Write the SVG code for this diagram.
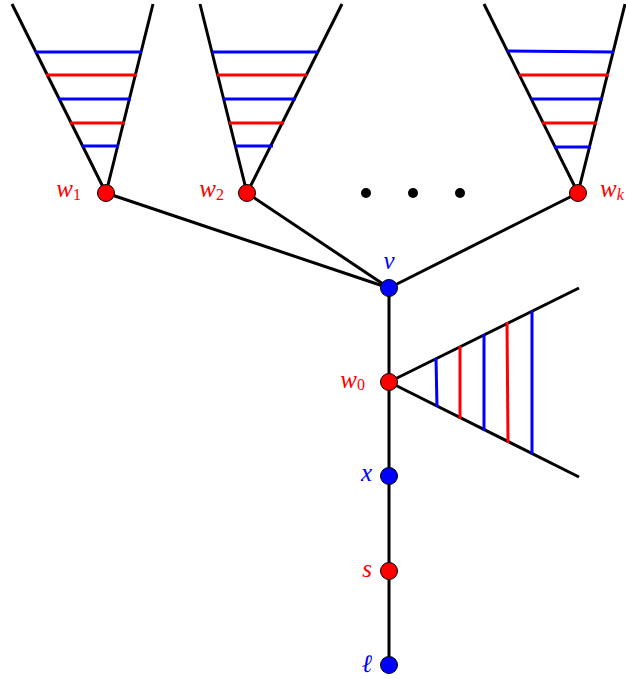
<svg xmlns="http://www.w3.org/2000/svg" width="626" height="679" viewBox="0 0 626 679">
<style>
.e{stroke:#000;stroke-width:3;fill:none;stroke-linecap:butt}
.b{stroke:#0000ff;stroke-width:3;fill:none}
.r{stroke:#ff0000;stroke-width:3;fill:none}
.nr{fill:#ff0000;stroke:#000;stroke-width:1}
.nb{fill:#0000ff;stroke:#000;stroke-width:1}
.t{font-family:"Liberation Serif","DejaVu Serif",serif;font-style:italic;font-size:25px}
.sub{font-style:normal;font-size:16px}
.subi{font-style:italic;font-size:16px}
.tr{fill:#ff0000}
.tb{fill:#0000ff}
</style>
<g id="connectors">
<line class="e" x1="106" y1="193" x2="389" y2="288"/>
<line class="e" x1="247" y1="193" x2="389" y2="288"/>
<line class="e" x1="578" y1="193" x2="389" y2="288"/>
<line class="e" x1="389" y1="288" x2="389" y2="665"/>
</g>
<g id="tree-w1">
<line class="e" x1="106" y1="193" x2="12" y2="4"/>
<line class="e" x1="106" y1="193" x2="153" y2="4"/>
<line class="b" x1="35" y1="52" x2="142" y2="52"/>
<line class="r" x1="46" y1="75" x2="137" y2="75"/>
<line class="b" x1="58" y1="99" x2="131" y2="99"/>
<line class="r" x1="70" y1="123" x2="125" y2="123"/>
<line class="b" x1="82" y1="146" x2="119" y2="146"/>
</g>
<g id="tree-w2">
<line class="e" x1="247" y1="193" x2="200" y2="4"/>
<line class="e" x1="247" y1="193" x2="342" y2="4"/>
<line class="b" x1="212" y1="52" x2="318" y2="52"/>
<line class="r" x1="217" y1="75" x2="307" y2="75"/>
<line class="b" x1="223" y1="99" x2="296" y2="99"/>
<line class="r" x1="229" y1="123" x2="284" y2="123"/>
<line class="b" x1="235" y1="146" x2="273" y2="146"/>
</g>
<g id="tree-wk">
<line class="e" x1="578" y1="193" x2="484" y2="4"/>
<line class="e" x1="578" y1="193" x2="625" y2="4"/>
<line class="b" x1="507" y1="51" x2="614" y2="52"/>
<line class="r" x1="519" y1="75" x2="609" y2="75"/>
<line class="b" x1="531" y1="99" x2="603" y2="99"/>
<line class="r" x1="542" y1="123" x2="597" y2="123"/>
<line class="b" x1="554" y1="147" x2="591" y2="147"/>
</g>
<g id="fan-w0">
<line class="e" x1="389" y1="382" x2="579" y2="288"/>
<line class="e" x1="389" y1="382" x2="579" y2="477"/>
<line class="b" x1="436" y1="358" x2="437" y2="407"/>
<line class="r" x1="460" y1="346" x2="460" y2="419"/>
<line class="b" x1="484" y1="334" x2="484" y2="431"/>
<line class="r" x1="507" y1="322" x2="508" y2="443"/>
<line class="b" x1="532" y1="311" x2="532" y2="454"/>
</g>
<g id="dots">
<circle cx="366" cy="193" r="5" fill="#000"/>
<circle cx="413" cy="193" r="5" fill="#000"/>
<circle cx="460" cy="193" r="5" fill="#000"/>
</g>
<g id="node-w1"><circle class="nr" cx="106" cy="193" r="8.5"/><text class="t tr" x="81" y="197" text-anchor="end">w<tspan class="sub" dy="3">1</tspan></text></g>
<g id="node-w2"><circle class="nr" cx="247" cy="193" r="8.5"/><text class="t tr" x="224" y="197" text-anchor="end">w<tspan class="sub" dy="3">2</tspan></text></g>
<g id="node-wk"><circle class="nr" cx="578" cy="193" r="8.5"/><text class="t tr" x="600" y="197">w<tspan class="subi" dy="3">k</tspan></text></g>
<g id="node-v"><circle class="nb" cx="389" cy="288" r="8.5"/><text class="t tb" x="389" y="269" text-anchor="middle">v</text></g>
<g id="node-w0"><circle class="nr" cx="389" cy="382" r="8.5"/><text class="t tr" x="365" y="388" text-anchor="end">w<tspan class="sub" dy="2">0</tspan></text></g>
<g id="node-x"><circle class="nb" cx="389" cy="476" r="8.5"/><text class="t tb" x="372" y="481" text-anchor="end">x</text></g>
<g id="node-s"><circle class="nr" cx="389" cy="571" r="8.5"/><text class="t tr" x="372" y="577" text-anchor="end">s</text></g>
<g id="node-l"><circle class="nb" cx="389" cy="665" r="8.5"/><text class="t tb" x="372" y="672" text-anchor="end">ℓ</text></g>
</svg>
